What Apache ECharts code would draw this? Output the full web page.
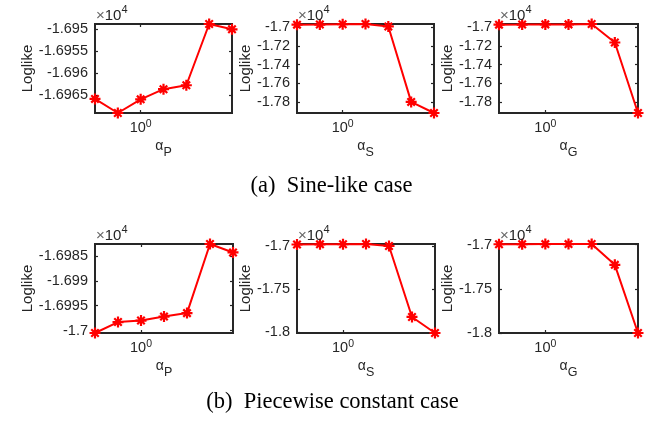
<!DOCTYPE html>
<html><head><meta charset="utf-8">
<script src="https://cdn.jsdelivr.net/npm/echarts@6/dist/echarts.min.js"></script>
<style>html,body{margin:0;padding:0;background:#fff}#c{width:655px;height:421px}</style>
</head><body><div id="c"></div><script>
// ---- data ----
const alphaValues = [0.5, 0.7071, 1, 1.4142, 2, 2.8284, 4];
const xTickValues = [1];

const sineP = [-16965.8, -16969.0, -16965.9, -16963.6, -16962.7, -16948.8, -16950.0];
const sineS = [-16975, -16974, -16970, -16968, -16994, -17797, -17915];
const sineG = [-16975, -16974, -16972, -16972, -16968, -17165, -17915];
const pieceP = [-17000.5, -16998.3, -16998.0, -16997.2, -16996.5, -16982.6, -16984.3];
const pieceS = [-16978, -16976, -16975, -16972, -16995, -17823, -18010];
const pieceG = [-16995, -16994, -16993, -16993, -16992, -17228, -18000];

const sineTicksP = [-16965, -16960, -16955, -16950];
const sineTicksSG = [-17800, -17600, -17400, -17200, -17000];
const pieceTicksP = [-17000, -16995, -16990, -16985];
const pieceTicksSG = [-18000, -17500, -17000];

const subscripts = ['P', 'S', 'G', 'P', 'S', 'G'];
const captions = ['(a)\u2002Sine-like case', '(b)\u2002Piecewise constant case'];
const yName = 'Loglike';

// ---- layout ----
const panels = [
  {vals: sineP,  ticks: sineTicksP,   left: 95,  top: 24,  w: 137, h: 89, gap: 58},
  {vals: sineS,  ticks: sineTicksSG,  left: 297, top: 24,  w: 137, h: 89, gap: 39},
  {vals: sineG,  ticks: sineTicksSG,  left: 499, top: 24,  w: 139, h: 89, gap: 39},
  {vals: pieceP, ticks: pieceTicksP,  left: 95,  top: 244, w: 138, h: 89, gap: 58},
  {vals: pieceS, ticks: pieceTicksSG, left: 297, top: 244, w: 138, h: 89, gap: 39},
  {vals: pieceG, ticks: pieceTicksSG, left: 499, top: 244, w: 139, h: 89, gap: 39}
];

const AX = '#262626';
const FONT = "'Liberation Sans', Arial, Helvetica, sans-serif";
const SERIF = "'Liberation Serif', 'Times New Roman', serif";
const fmtY = v => String(parseFloat((v / 10000).toFixed(6)));
const star = 'path://M5 0L5 10M0 5L10 5M1.6 1.6L8.4 8.4M1.6 8.4L8.4 1.6';

const grid = [], xAxis = [], yAxis = [], series = [], graphic = [];
panels.forEach((p, i) => {
  const ymin = Math.min(...p.vals), ymax = Math.max(...p.vals);
  grid.push({left: p.left, top: p.top, width: p.w, height: p.h, show: true,
    borderColor: AX, borderWidth: 1.8, backgroundColor: '#fff'});
  const xBase = {type: 'log', logBase: 10, gridIndex: i,
    min: alphaValues[0], max: alphaValues[alphaValues.length - 1],
    axisLine: {show: true, lineStyle: {color: AX, width: 1.8}},
    splitLine: {show: false}, minorTick: {show: false}};
  xAxis.push(Object.assign({}, xBase, {position: 'bottom',
    axisTick: {show: true, inside: true, length: 3, customValues: xTickValues, lineStyle: {color: AX, width: 1.2}},
    axisLabel: {show: true, customValues: xTickValues, margin: 6,
      formatter: () => '{b|10}{s|0}',
      rich: {b: {fontSize: 14.5, fontFamily: FONT, color: AX, lineHeight: 18},
             s: {fontSize: 10.5, fontFamily: FONT, color: AX, verticalAlign: 'top', lineHeight: 12}}},
    name: '{a|\u03b1}{s|' + subscripts[i] + '}', nameLocation: 'middle', nameGap: 26,
    nameTextStyle: {rich: {
      a: {fontSize: 14, fontFamily: FONT, color: AX, verticalAlign: 'top', lineHeight: 20},
      s: {fontSize: 12.5, fontFamily: FONT, color: AX, verticalAlign: 'bottom', lineHeight: 20}}}
  }));
  xAxis.push(Object.assign({}, xBase, {position: 'top',
    axisTick: {show: true, inside: true, length: 3, customValues: xTickValues, lineStyle: {color: AX, width: 1.2}},
    axisLabel: {show: false}}));
  const yBase = {type: 'value', gridIndex: i, min: ymin, max: ymax, scale: true,
    axisLine: {show: true, lineStyle: {color: AX, width: 1.8}},
    splitLine: {show: false}};
  yAxis.push(Object.assign({}, yBase, {position: 'left',
    axisTick: {show: true, inside: true, length: 3, customValues: p.ticks, lineStyle: {color: AX, width: 1.2}},
    axisLabel: {show: true, customValues: p.ticks, formatter: fmtY, margin: 7,
      fontSize: 14.5, fontFamily: FONT, color: AX},
    name: yName, nameLocation: 'middle', nameGap: p.gap,
    nameTextStyle: {fontSize: 15, fontFamily: FONT, color: AX}}));
  yAxis.push(Object.assign({}, yBase, {position: 'right',
    axisTick: {show: true, inside: true, length: 3, customValues: p.ticks, lineStyle: {color: AX, width: 1.2}},
    axisLabel: {show: false}}));
  series.push({type: 'line', xAxisIndex: 2 * i, yAxisIndex: 2 * i, clip: false,
    data: alphaValues.map((a, k) => [a, p.vals[k]]),
    symbol: star, symbolSize: 11, showAllSymbol: true,
    lineStyle: {color: '#ff0000', width: 2},
    itemStyle: {color: '#ff0000', borderColor: '#ff0000', borderWidth: 2.2},
    z: 5});
  graphic.push({type: 'text', left: p.left + 1, top: p.top - 20, z: 10,
    style: {text: '{m|\u00d7}{b|10}{s|4}', rich: {
      m: {fontSize: 15, fontFamily: FONT, fill: '#666', verticalAlign: 'bottom', lineHeight: 19},
      b: {fontSize: 15, fontFamily: FONT, fill: AX, verticalAlign: 'bottom', lineHeight: 19},
      s: {fontSize: 11, fontFamily: FONT, fill: AX, verticalAlign: 'top', lineHeight: 12}}}});
});
graphic.push({type: 'text', x: 331.5, y: 186, z: 10,
  style: {text: captions[0], fontSize: 22.5, fontFamily: SERIF,
    fill: '#000', align: 'center', verticalAlign: 'middle'}});
graphic.push({type: 'text', x: 332.5, y: 402, z: 10,
  style: {text: captions[1], fontSize: 22.5, fontFamily: SERIF,
    fill: '#000', align: 'center', verticalAlign: 'middle'}});

const chart = echarts.init(document.getElementById('c'), null, {renderer: 'canvas'});
chart.setOption({animation: false, backgroundColor: '#fff', grid, xAxis, yAxis, series, graphic});
</script></body></html>
